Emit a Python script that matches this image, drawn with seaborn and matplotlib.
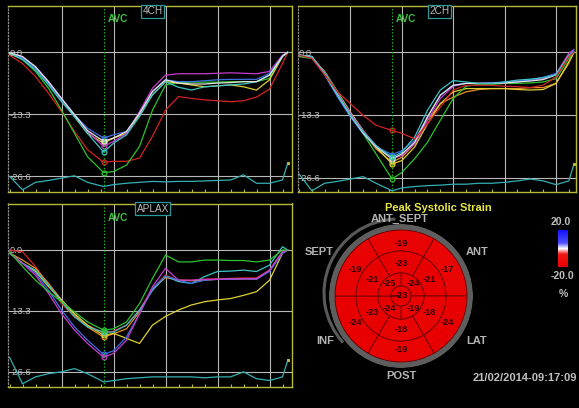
import matplotlib
matplotlib.use("Agg")
import matplotlib.pyplot as plt
import seaborn as sns
from matplotlib.colors import LinearSegmentedColormap, Normalize
from matplotlib.cm import ScalarMappable
from matplotlib.patches import Arc
from matplotlib.ticker import MultipleLocator
import numpy as np

# ---- data -------------------------------------------------------------
time_ms = [0, 50, 100, 150, 200, 250, 300, 362, 400, 450, 500, 550, 600, 650,
           700, 750, 800, 850, 900, 950, 1000, 1050, 1070]
avc_ms = 362
grid_ms = [200, 400, 600, 800, 1000]
strain_ticks = [0.0, -13.3, -26.6]
strain_labels = ["0.0", "-13.3", "-26.6"]

# 4CH
ch4_red = [-0.6, -2.4, -5.2, -8.8, -12.7, -17.0, -20.9, -23.6, -23.4, -23.4, -22.7, -18.0,
           -12.4, -9.5, -9.9, -10.2, -10.4, -10.6, -10.4, -9.6, -7.9, -2.4, 0.0]
ch4_green = [-0.2, -1.6, -4.1, -7.7, -12.4, -17.4, -22.4, -25.8, -25.6, -24.2, -20.2, -12.4,
             -7.0, -6.5, -6.4, -6.4, -6.4, -6.3, -6.3, -6.3, -5.6, -0.9, 0.1]
ch4_cyan = [-0.2, -1.5, -3.8, -7.0, -10.6, -13.8, -17.4, -21.4, -19.5, -17.7, -13.8, -9.1,
            -6.3, -7.5, -8.1, -7.4, -7.2, -7.0, -6.8, -6.3, -4.9, -0.9, 0.0]
ch4_blue = [-0.2, -1.3, -3.4, -6.6, -10.2, -13.4, -16.3, -18.4, -17.7, -17.0, -13.1, -8.4,
            -5.9, -6.3, -6.3, -6.1, -5.9, -5.8, -5.8, -5.8, -4.5, -0.8, 0.0]
ch4_magenta = [-0.2, -1.1, -3.1, -6.3, -9.9, -13.4, -17.0, -20.2, -19.1, -17.4, -12.7, -7.7,
               -4.9, -4.6, -4.6, -4.6, -4.5, -4.4, -4.5, -4.6, -4.1, -0.6, 0.0]
ch4_yellow = [-0.4, -1.3, -3.4, -6.6, -10.2, -13.8, -17.4, -19.5, -18.4, -17.4, -13.4, -9.1,
              -6.3, -6.6, -7.0, -7.4, -7.2, -7.0, -7.4, -8.1, -5.9, -0.9, 0.0]
ch4_white = [-0.1, -0.9, -3.1, -6.3, -9.9, -13.4, -16.8, -19.1, -18.4, -17.0, -13.1, -8.4,
             -5.9, -6.6, -6.8, -6.8, -6.6, -6.5, -6.3, -6.3, -4.9, -0.8, 0.0]
ch4_trace = [-26.6, -29.5, -27.9, -27.5, -27.0, -26.5, -27.9, -28.8, -28.4, -28.1, -27.9, -27.7,
             -27.8, -27.7, -27.7, -27.6, -27.5, -27.4, -26.3, -28.1, -28.1, -27.4, -23.8]

# 2CH
ch2_red = [-0.6, -1.3, -4.8, -8.4, -10.9, -13.4, -15.5, -16.6, -17.2, -18.4, -15.2, -11.6,
           -8.0, -7.0, -7.0, -7.0, -7.2, -7.3, -7.5, -7.0, -5.2, -0.9, 0.0]
ch2_green = [-0.9, -1.3, -4.1, -8.4, -13.0, -17.3, -21.6, -26.9, -25.5, -22.6, -19.1, -14.4,
             -9.8, -7.2, -6.8, -6.8, -6.6, -6.6, -6.5, -6.3, -5.6, -1.3, 0.0]
ch2_cyan = [-0.6, -0.9, -4.5, -9.1, -13.4, -16.9, -19.8, -22.3, -21.2, -18.0, -12.3, -8.0,
            -6.0, -6.3, -6.6, -6.6, -6.3, -5.9, -5.7, -5.4, -4.8, -0.6, 0.0]
ch2_blue = [-0.6, -1.1, -4.8, -9.5, -13.7, -17.3, -20.1, -21.7, -20.9, -18.7, -13.7, -9.1,
            -7.0, -6.6, -6.6, -6.5, -6.3, -6.1, -5.9, -5.3, -4.5, -0.9, 0.5]
ch2_magenta = [-0.6, -0.9, -4.3, -8.8, -13.0, -16.7, -19.8, -22.6, -21.9, -19.4, -14.4, -9.8,
               -7.2, -6.6, -6.6, -6.5, -6.5, -6.3, -5.9, -5.6, -4.6, -0.2, 0.6]
ch2_yellow = [-0.8, -1.1, -4.1, -8.4, -12.7, -16.6, -20.1, -23.7, -23.0, -20.1, -15.2, -10.9,
              -8.4, -7.7, -7.7, -7.7, -7.7, -7.9, -8.0, -7.9, -6.6, -2.0, 0.0]
ch2_white = [-0.6, -0.9, -4.6, -9.1, -13.4, -17.2, -20.1, -22.6, -21.6, -19.1, -13.7, -9.1,
             -7.0, -6.6, -6.6, -6.6, -6.5, -6.3, -6.1, -5.8, -4.8, -0.8, 0.0]
ch2_orange = [-0.8, -1.1, -4.3, -8.8, -13.0, -16.9, -20.5, -23.3, -22.3, -19.4, -14.4, -10.9,
              -9.5, -8.4, -7.9, -7.7, -7.7, -7.7, -7.5, -7.5, -6.6, -2.3, 0.0]
ch2_trace = [-25.8, -29.4, -27.8, -27.4, -26.9, -26.4, -27.8, -29.4, -28.8, -28.5, -28.3, -28.2,
             -28.0, -28.0, -27.8, -27.8, -27.6, -27.3, -26.9, -27.3, -28.1, -27.3, -23.7]

# APLAX
ap_green = [-0.4, -3.6, -6.6, -9.1, -11.3, -13.5, -15.7, -17.5, -17.2, -15.7, -11.7, -6.2,
            -1.1, -2.6, -2.6, -2.2, -2.2, -2.3, -2.3, -2.6, -2.2, 0.0, 0.0]
ap_yellow = [-0.6, -2.9, -4.7, -8.0, -10.9, -13.9, -16.4, -18.6, -18.2, -19.3, -20.4, -16.4,
             -14.5, -13.1, -12.0, -11.3, -10.9, -10.6, -9.9, -9.1, -6.6, -0.7, 0.0]
ap_magenta = [-0.6, -2.9, -5.5, -9.5, -13.9, -17.5, -20.4, -23.4, -22.6, -19.7, -13.9, -8.0,
              -4.0, -6.6, -6.6, -6.4, -6.4, -6.3, -6.3, -6.3, -4.4, -0.4, 0.0]
ap_blue = [-0.6, -2.9, -5.1, -8.8, -13.1, -16.8, -19.7, -22.8, -22.0, -19.0, -13.9, -8.4,
           -5.7, -6.6, -7.3, -6.6, -6.4, -6.4, -6.3, -6.4, -4.7, -0.7, 0.0]
ap_cyan = [-0.7, -2.9, -4.4, -7.7, -11.3, -14.6, -16.8, -17.9, -17.9, -16.4, -13.1, -8.8,
           -5.7, -6.9, -7.3, -5.8, -4.7, -4.6, -4.4, -4.7, -3.3, 0.7, 0.0]
ap_red = [0.0, -0.4, -3.6, -7.7, -11.7, -14.6, -16.4, -18.1, -17.7, -16.4, -13.1, -8.4,
          -5.5, -6.6, -6.6, -6.4, -6.3, -6.2, -6.1, -6.1, -4.4, -0.4, 0.0]
ap_orange = [-0.6, -2.2, -4.0, -7.3, -10.9, -14.2, -16.8, -19.0, -18.3, -17.2, -13.5, -8.6,
             -6.0, -6.6, -6.7, -6.6, -6.4, -6.4, -6.3, -6.3, -4.5, -0.6, 0.0]
ap_trace = [-23.4, -29.2, -27.7, -27.0, -26.6, -25.9, -27.0, -28.8, -28.5, -28.1, -27.9, -27.7,
            -27.7, -27.7, -27.7, -27.9, -27.7, -27.7, -26.6, -28.1, -28.5, -27.7, -24.1]

# bullseye (peak systolic strain, %)
basal_angles = [90, 30, 330, 270, 210, 150]
basal_vals = [-19, -17, -24, -19, -24, -19]
mid_vals = [-23, -21, -18, -18, -23, -21]
apical_angles = [45, 315, 225, 135]
apical_vals = [-24, -19, -24, -25]
apex_val = -23
wall_names = ["ANT_SEPT", "ANT", "LAT", "POST", "INF", "SEPT"]

# ---- style ------------------------------------------------------------
sns.set_theme(style="dark", rc={"axes.facecolor": "black", "figure.facecolor": "black",
                                "savefig.facecolor": "black"})
plt.rcParams["font.family"] = ["Liberation Sans", "DejaVu Sans"]

seg_colors = {"red": "#d42222", "green": "#2cc42c", "cyan": "#3cc4c8", "blue": "#3c6ee4",
              "magenta": "#c83cd0", "yellow": "#e0d032", "white": "#e6e6e6",
              "orange": "#e8902a"}
frame_yellow = "#b8b83c"
label_gray = "#c4c4c4"
W, H = 579, 408

fig = plt.figure(figsize=(W / 100, H / 100), dpi=100)

canvas = fig.add_axes([0, 0, 1, 1])
canvas.set_xlim(0, W)
canvas.set_ylim(0, H)
canvas.set_axis_off()


def px_axes(l, t, r, b, **kw):
    return fig.add_axes([l / W, 1 - b / H, (r - l) / W, (b - t) / H], **kw)


def strain_panel(ax, curves, trace, title, xlim, ylim, avc_y):
    ax.set_facecolor("black")
    ax.set_axisbelow(True)
    for name, vals in curves.items():
        c = seg_colors[name]
        sns.lineplot(x=time_ms, y=vals, color=c, lw=0.9, ax=ax, errorbar=None,
                     marker="o", markevery=[7], mfc="none", mec=c, mew=0.9, ms=3.5)
    sns.lineplot(x=time_ms, y=trace, color="#34b0b4", lw=0.9, ax=ax, errorbar=None,
                 marker="s", markevery=[len(trace) - 1], mfc=frame_yellow,
                 mec=frame_yellow, ms=2)
    ax.axvline(avc_ms, color="#2cc42c", ls=":", lw=0.9)
    ax.text(avc_ms + 14, avc_y, "AVC", color="#3cc43c", fontsize=7.2,
            fontweight="bold", ha="left", va="center")
    ax.text(0.51, 0.972, title, transform=ax.transAxes, color="#bcbcbc", fontsize=7.2,
            ha="center", va="center", zorder=10,
            bbox=dict(boxstyle="square,pad=0.15", fc="black", ec="#2a9a9a", lw=0.9))

    ax.set_xlim(xlim)
    ax.set_ylim(ylim)
    ax.set_xticks(grid_ms)
    ax.xaxis.set_minor_locator(MultipleLocator(50))
    ax.set_yticks(strain_ticks)
    ax.set_yticklabels(strain_labels)
    ax.grid(True, which="major", color="#b8b8b8", lw=0.8)
    ax.grid(False, which="minor")
    ax.tick_params(axis="x", which="major", length=0, labelbottom=False)
    ax.tick_params(axis="x", which="minor", bottom=True, length=2.5, width=0.8,
                   color=frame_yellow, direction="in")
    ax.tick_params(axis="y", length=0, pad=-1, labelcolor=label_gray, labelsize=6.8)
    for lab in ax.get_yticklabels():
        lab.set_ha("left")
    ax.set_xlabel("")
    ax.set_ylabel("")
    for s in ["top", "bottom", "right"]:
        ax.spines[s].set_visible(True)
        ax.spines[s].set_color(frame_yellow)
        ax.spines[s].set_linewidth(1.0)
    ax.spines["left"].set_visible(True)
    ax.spines["left"].set_color("#8c8c8c")
    ax.spines["left"].set_linestyle(":")
    ax.spines["left"].set_linewidth(0.9)


ax1 = px_axes(8, 6, 292, 191.5)
strain_panel(ax1, {"red": ch4_red, "green": ch4_green, "yellow": ch4_yellow,
                   "magenta": ch4_magenta, "blue": ch4_blue, "cyan": ch4_cyan,
                   "white": ch4_white},
             ch4_trace, "4CH", (-5.8, 1086.5), (-29.87, 9.94), 7.1)

ax2 = px_axes(297.5, 6, 575.5, 191.5)
strain_panel(ax2, {"orange": ch2_orange, "yellow": ch2_yellow, "green": ch2_green,
                   "magenta": ch2_magenta, "blue": ch2_blue, "white": ch2_white,
                   "cyan": ch2_cyan, "red": ch2_red},
             ch2_trace, "2CH", (-5.8, 1075.9), (-29.55, 9.83), 7.07)

ax3 = px_axes(8, 203.5, 292, 386.5)
strain_panel(ax3, {"red": ap_red, "orange": ap_orange, "yellow": ap_yellow,
                   "cyan": ap_cyan, "blue": ap_blue, "magenta": ap_magenta,
                   "green": ap_green},
             ap_trace, "APLAX", (-5.8, 1086.5), (-29.8, 10.15), 6.9)

# ---- bullseye ---------------------------------------------------------
cmap = LinearSegmentedColormap.from_list(
    "strain", [(0.0, "#e80000"), (0.35, "#f01818"), (0.5, "#ffffff"),
               (0.65, "#5050ff"), (1.0, "#1010ff")])
norm = Normalize(-20, 20)

# extra outer arc (behind), in pixel coordinates
canvas.add_patch(Arc((398, H - 293), 148, 148, theta1=92, theta2=222,
                     color="#5a5a5a", lw=2.2))

bx = px_axes(329, 224, 473, 368, projection="polar")
bx.set_facecolor("none")
bx.set_axis_off()
bx.set_ylim(0, 72)
rad = np.deg2rad
bx.bar(0, 6, width=2 * np.pi, bottom=66, color="#5e5e5e", edgecolor="none")
seg_edge = dict(edgecolor="#6a0000", linewidth=0.6)
bx.bar(rad(basal_angles), 21, width=rad(60), bottom=45,
       color=cmap(norm(basal_vals)), **seg_edge)
bx.bar(rad(basal_angles), 22, width=rad(60), bottom=23,
       color=cmap(norm(mid_vals)), **seg_edge)
bx.bar(rad(apical_angles), 13, width=rad(90), bottom=10,
       color=cmap(norm(apical_vals)), **seg_edge)
bx.bar(0, 10, width=2 * np.pi, bottom=0, color=cmap(norm([apex_val])), **seg_edge)

txt_kw = dict(color="#2a0000", fontsize=6.6, fontweight="bold", ha="center", va="center")
for a, v in zip(basal_angles, basal_vals):
    bx.text(rad(a), 53, str(v), **txt_kw)
for a, v in zip(basal_angles, mid_vals):
    bx.text(rad(a), 33, str(v), **txt_kw)
for a, v in zip(apical_angles, apical_vals):
    bx.text(rad(a), 17, str(v), **txt_kw)
bx.text(0, 0, str(apex_val), **txt_kw)

# wall names around the bullseye
wall_pos = [(400, 219), (477, 252), (477, 341), (401, 376), (325, 341), (319, 252)]
for name, (x, y) in zip(wall_names, wall_pos):
    canvas.text(x, H - y, name, color="#b4b4b4", fontsize=8, fontweight="bold",
                ha="center", va="center")

canvas.text(438, H - 208, "Peak Systolic Strain", color="#e6e646", fontsize=8,
            fontweight="bold", ha="center", va="center")
canvas.text(525, H - 378, "21/02/2014-09:17:09", color="#c0c0c0", fontsize=8,
            fontweight="bold", ha="center", va="center")

# colour scale
cax = px_axes(558, 230, 568, 267)
cb = fig.colorbar(ScalarMappable(norm=norm, cmap=cmap), cax=cax)
cb.outline.set_visible(False)
cb.set_ticks([])
canvas.text(561, H - 222, "20.0", color="#c0c0c0", fontsize=7.5, fontweight="bold",
            ha="center", va="center")
canvas.text(562, H - 276, "-20.0", color="#c0c0c0", fontsize=7.5, fontweight="bold",
            ha="center", va="center")
canvas.text(563, H - 294, "%", color="#c0c0c0", fontsize=7.5, fontweight="bold",
            ha="center", va="center")

fig.savefig("out.png", dpi=100, facecolor="black")
